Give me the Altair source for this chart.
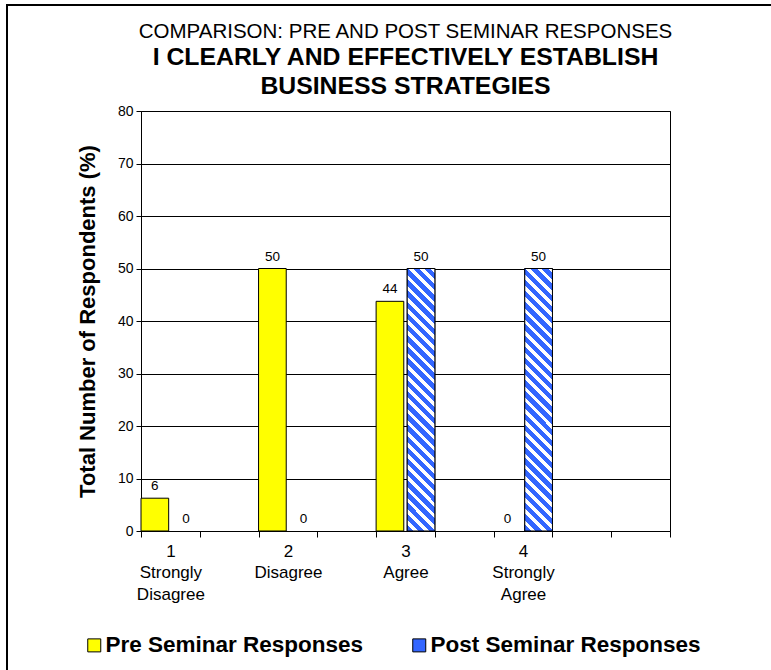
import altair as alt
import pandas as pd

# ---- data ----
slots = ["1", "gap1", "2", "gap2", "3", "gap3", "4", "gap4", "gap5"]
category_keys = ["1", "2", "3", "4"]
category_labels = [
    ["1", "Strongly", "Disagree"],
    ["2", "Disagree"],
    ["3", "Agree"],
    ["4", "Strongly", "Agree"],
]
series = ["Pre Seminar Responses", "Post Seminar Responses"]
pre_values = [6.25, 50, 43.75, 0]
post_values = [0, 0, 50, 50]
y_ticks = [0, 10, 20, 30, 40, 50, 60, 70, 80]

title_line = "COMPARISON: PRE AND POST SEMINAR RESPONSES"
subtitle_lines = ["I CLEARLY AND EFFECTIVELY ESTABLISH", "BUSINESS STRATEGIES"]
y_title = "Total Number of Respondents (%)"

YELLOW = "#ffff00"
BLUE = "#3366ff"
FONT = "Liberation Sans"

rows = []
for k, pv, qv in zip(category_keys, pre_values, post_values):
    rows.append({"slot": k, "series": series[0], "value": pv})
    rows.append({"slot": k, "series": series[1], "value": qv})
df = pd.DataFrame(rows)

# ---- x label expression (multi-line labels) ----
def js_arr(lines):
    return "[" + ",".join("'" + s + "'" for s in lines) + "]"

expr = "''"
for k, lab in reversed(list(zip(category_keys, category_labels))):
    expr = f"datum.value == '{k}' ? {js_arr(lab)} : ({expr})"

# ---- diagonal stripe gradient for post bars ----
W, H = 27.7, 262.5
r = W / H
b = (1 + r) / (1 + r * r)
a = r * b
N = 26
stops = []
for i in range(N):
    s0 = i / N
    s1 = (i + 0.58) / N
    s2 = (i + 1) / N
    stops += [
        alt.GradientStop(offset=s0, color=BLUE),
        alt.GradientStop(offset=s1, color=BLUE),
        alt.GradientStop(offset=s1, color="white"),
        alt.GradientStop(offset=s2, color="white"),
    ]
stripes = alt.LinearGradient(gradient="linear", x1=0, y1=1, x2=a, y2=1 - b, stops=stops)

x_enc = alt.X(
    "slot:N",
    scale=alt.Scale(domain=slots, paddingInner=0, paddingOuter=0),
    axis=alt.Axis(
        title=None, labelExpr=expr, labelAngle=0, tickBand="extent", tickSize=6,
        labelPadding=6, labelFontSize=17, labelLineHeight=21.5, labelFont=FONT,
        labelColor="black", labelBaseline="top", labelOverlap=False,
        domainColor="black", tickColor="black", grid=False,
    ),
)
xoff_enc = alt.XOffset("series:N", scale=alt.Scale(domain=series, paddingInner=0.11, paddingOuter=0))
y_enc = alt.Y(
    "value:Q",
    scale=alt.Scale(domain=[0, 80], nice=False),
    axis=alt.Axis(
        values=y_ticks, title=y_title, grid=True, gridColor="black", gridWidth=1,
        tickColor="black", tickSize=5, domainColor="black", labelFontSize=14,
        labelFont=FONT, labelColor="black", labelPadding=3, titleFont=FONT,
        titleFontSize=22, titleFontWeight="bold", titleColor="black", titlePadding=18,
    ),
)

bars = alt.Chart(df).transform_filter(alt.datum.value > 0).mark_bar(
    stroke="black", strokeWidth=1
).encode(
    x=x_enc, xOffset=xoff_enc, y=y_enc,
    color=alt.Color(
        "series:N",
        scale=alt.Scale(domain=series, range=[YELLOW, BLUE]),
        legend=alt.Legend(
            title=None, orient="none", legendX=-58, legendY=523, direction="horizontal",
            columns=2, symbolType="square", symbolSize=169, symbolStrokeColor="black",
            symbolStrokeWidth=1, symbolOpacity=1, labelFontSize=22.5, labelFontWeight="bold",
            labelFont=FONT, labelColor="black", labelOffset=0, columnPadding=44,
            labelLimit=400, padding=0,
        ),
    ),
)

striped = alt.Chart(df).transform_filter(
    (alt.datum.series == series[1]) & (alt.datum.value > 0)
).mark_bar(fill=stripes, stroke="black", strokeWidth=1).encode(
    x=x_enc, xOffset=xoff_enc, y=y_enc,
)

labels = alt.Chart(df).mark_text(
    dy=-12, fontSize=13.5, font=FONT, color="black", baseline="middle"
).encode(
    x=x_enc, xOffset=xoff_enc, y=y_enc,
    text=alt.Text("value:Q", format=".0f"),
)

frame = alt.Chart(pd.DataFrame({"f": [0]})).mark_rect(
    fillOpacity=0, stroke="black", strokeWidth=2
).encode(
    x=alt.value(-134), x2=alt.value(700), y=alt.value(-106), y2=alt.value(650),
)

chart = alt.layer(frame, bars, striped, labels).properties(
    width=529,
    height=420,
    padding={"left": 141, "top": 111, "right": 101, "bottom": 139},
    autosize=alt.AutoSizeParams(type="none"),
    background="white",
    title=alt.Title(
        text=title_line, subtitle=subtitle_lines, anchor="middle", frame="group",
        font=FONT, fontSize=20.5, fontWeight="normal", color="black",
        subtitleFont=FONT, subtitleFontSize=24.8, subtitleFontWeight="bold",
        subtitleColor="black", subtitleLineHeight=29, subtitlePadding=3, offset=-95,
    ),
).configure_view(stroke="black", strokeWidth=1)

chart.save("out.html", embed_options={"renderer": "svg", "actions": False})
